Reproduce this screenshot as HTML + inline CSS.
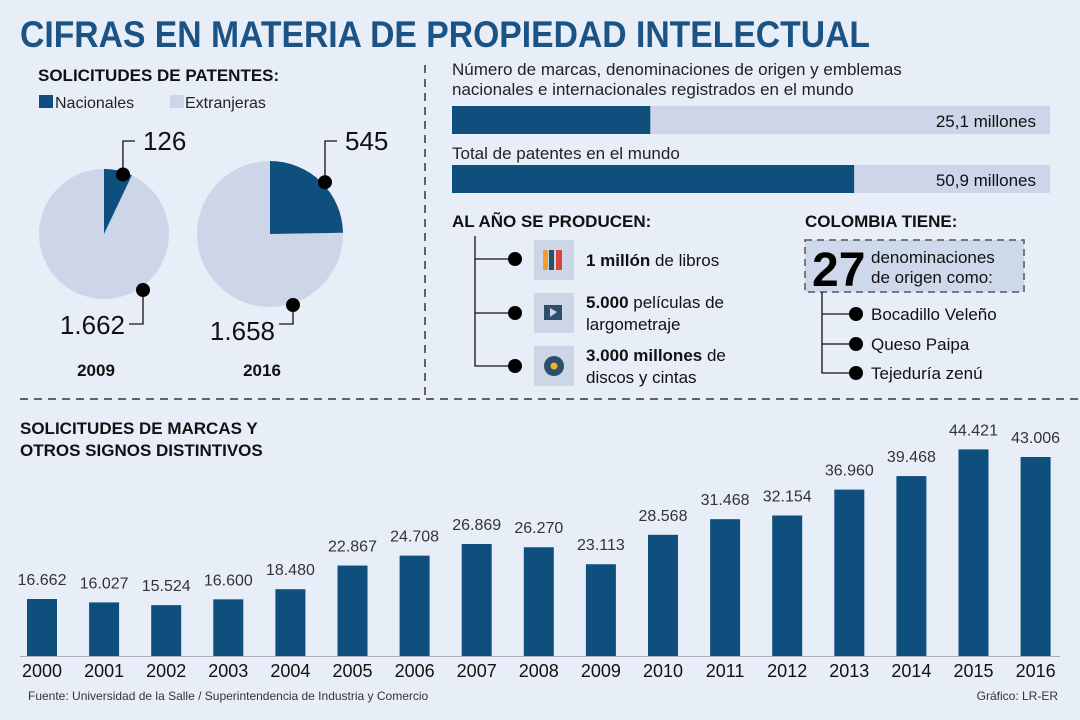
<!DOCTYPE html>
<html><head><meta charset="utf-8"><style>
body{margin:0;background:#e8eef8;}
svg{display:block;font-family:"Liberation Sans",sans-serif;}
</style></head><body>
<svg id="s" width="1080" height="720" viewBox="0 0 1080 720">
<rect width="1080" height="720" fill="#e8eef8"/>
<text x="20" y="47" font-size="37" font-weight="bold" fill="#1c5385" textLength="850" lengthAdjust="spacingAndGlyphs">CIFRAS EN MATERIA DE PROPIEDAD INTELECTUAL</text>
<text x="38" y="81" font-size="17" font-weight="bold" fill="#111">SOLICITUDES DE PATENTES:</text>
<rect x="39" y="95" width="14" height="13" fill="#0f4f7d"/>
<text x="55" y="108" font-size="16" fill="#222">Nacionales</text>
<rect x="170" y="95" width="14" height="13" fill="#ccd6e8"/>
<text x="185" y="108" font-size="16" fill="#222">Extranjeras</text>
<g id="pies"></g>
<line x1="425" y1="65" x2="425" y2="398" stroke="#333" stroke-width="1.5" stroke-dasharray="8,6"/>
<line x1="20" y1="399" x2="1080" y2="399" stroke="#333" stroke-width="1.5" stroke-dasharray="8,6"/>
<text x="452" y="75" font-size="17" fill="#222">Número de marcas, denominaciones de origen y emblemas</text>
<text x="452" y="95" font-size="17" fill="#222">nacionales e internacionales registrados en el mundo</text>
<text x="452" y="159" font-size="17" fill="#222">Total de patentes en el mundo</text>
<g id="hbars"></g>
<text x="452" y="227" font-size="17" font-weight="bold" fill="#111">AL AÑO SE PRODUCEN:</text>
<polyline points="475,236 475,366 515,366" fill="none" stroke="#111" stroke-width="1.3"/>
<line x1="475" y1="259" x2="515" y2="259" stroke="#111" stroke-width="1.3"/>
<line x1="475" y1="313" x2="515" y2="313" stroke="#111" stroke-width="1.3"/>
<circle cx="515" cy="259" r="7" fill="#000"/><circle cx="515" cy="313" r="7" fill="#000"/><circle cx="515" cy="366" r="7" fill="#000"/>
<rect x="534" y="240" width="40" height="40" fill="#cdd6e6"/>
<rect x="543" y="250" width="5" height="20" fill="#f0a030"/><rect x="549" y="250" width="5" height="20" fill="#2d4f6c"/><rect x="556" y="250" width="6" height="20" fill="#d9453a"/>
<rect x="534" y="293" width="40" height="40" fill="#cdd6e6"/>
<rect x="544" y="305" width="18" height="15" fill="#2d4f6c"/><polygon points="550,308 550,317 557,312" fill="#cdd6e6"/>
<rect x="534" y="346" width="40" height="40" fill="#cdd6e6"/>
<circle cx="554" cy="366" r="10" fill="#2d4f6c"/><circle cx="554" cy="366" r="3.5" fill="#f0b030"/>
<text x="586" y="266" font-size="17" fill="#111"><tspan font-weight="bold">1 millón</tspan> de libros</text>
<text x="586" y="308" font-size="17" fill="#111"><tspan font-weight="bold">5.000</tspan> películas de</text>
<text x="586" y="330" font-size="17" fill="#111">largometraje</text>
<text x="586" y="361" font-size="17" fill="#111"><tspan font-weight="bold">3.000 millones</tspan> de</text>
<text x="586" y="383" font-size="17" fill="#111">discos y cintas</text>
<text x="805" y="227" font-size="17" font-weight="bold" fill="#111">COLOMBIA TIENE:</text>
<rect x="805" y="240" width="219" height="52" fill="#cdd9ea" stroke="#555" stroke-width="1.5" stroke-dasharray="7,5"/>
<text x="812" y="286" font-size="48" font-weight="bold" fill="#000">27</text>
<text x="871" y="263" font-size="17" fill="#111">denominaciones</text>
<text x="871" y="283" font-size="17" fill="#111">de origen como:</text>
<polyline points="822,292 822,373 856,373" fill="none" stroke="#111" stroke-width="1.3"/>
<line x1="822" y1="314" x2="856" y2="314" stroke="#111" stroke-width="1.3"/>
<line x1="822" y1="344" x2="856" y2="344" stroke="#111" stroke-width="1.3"/>
<circle cx="856" cy="314" r="7" fill="#000"/><circle cx="856" cy="344" r="7" fill="#000"/><circle cx="856" cy="373" r="7" fill="#000"/>
<text x="871" y="320" font-size="17" fill="#111">Bocadillo Veleño</text>
<text x="871" y="350" font-size="17" fill="#111">Queso Paipa</text>
<text x="871" y="379" font-size="17" fill="#111">Tejeduría zenú</text>
<text x="20" y="434" font-size="17" font-weight="bold" fill="#111">SOLICITUDES DE MARCAS Y</text>
<text x="20" y="456" font-size="17" font-weight="bold" fill="#111">OTROS SIGNOS DISTINTIVOS</text>
<line x1="20" y1="656.5" x2="1060" y2="656.5" stroke="#aab" stroke-width="1"/>
<g id="bars"></g>
<text x="28" y="700" font-size="12" fill="#333">Fuente: Universidad de la Salle / Superintendencia de Industria y Comercio</text>
<text x="1058" y="700" font-size="12" fill="#333" text-anchor="end">Gráfico: LR-ER</text>
</svg>
<script>
const years=["2000","2001","2002","2003","2004","2005","2006","2007","2008","2009","2010","2011","2012","2013","2014","2015","2016"];
const marcas=[16662,16027,15524,16600,18480,22867,24708,26869,26270,23113,28568,31468,32154,36960,39468,44421,43006];
const marcasLabels=["16.662","16.027","15.524","16.600","18.480","22.867","24.708","26.869","26.270","23.113","28.568","31.468","32.154","36.960","39.468","44.421","43.006"];
const pieYears=["2009","2016"];
const pieNac=[126,545];
const pieExt=[1662,1658];
const pieNacLabels=["126","545"];
const pieExtLabels=["1.662","1.658"];
const hbarValues=[25.1,50.9];
const hbarLabels=["25,1 millones","50,9 millones"];
const NS="http://www.w3.org/2000/svg";
function mk(tag,attrs,parent,txt){const e=document.createElementNS(NS,tag);for(const k in attrs)e.setAttribute(k,attrs[k]);if(txt!=null)e.textContent=txt;parent.appendChild(e);return e;}
// bar chart
const bg=document.getElementById('bars');
const base=656, v0=6087, k=0.00539;
const xPos=i=>27+i*62.1;
const yScale=v=>base-(v-v0)*k;
years.forEach((y,i)=>{
  const x=xPos(i), t=yScale(marcas[i]);
  const r=mk('rect',{x:x,y:t,width:30,height:base-t,fill:'#0f4f7d'},bg);
  
  
  const l=mk('text',{x:x+15,y:t-14,'font-size':16,fill:'#333','text-anchor':'middle'},bg,marcasLabels[i]);
  
  
  const yl=mk('text',{x:x+15,y:677,'font-size':18,fill:'#111','text-anchor':'middle'},bg,y);
  
  
});
// horizontal bars
const hg=document.getElementById('hbars');
const hy=[106,165];
hbarValues.forEach((v,i)=>{
  const tr=mk('rect',{x:452,y:hy[i],width:598,height:28,fill:'#ccd6e8'},hg);
  
  
  const b=mk('rect',{x:452,y:hy[i],width:v*7.9,height:28,fill:'#0f4f7d'},hg);
  
  
  const t=mk('text',{x:1036,y:hy[i]+21,'font-size':17,fill:'#111','text-anchor':'end'},hg,hbarLabels[i]);
  
  
});
// pies
const pg=document.getElementById('pies');
const cx=[104,270], rr=[65,73];
pieYears.forEach((y,i)=>{
  const c=cx[i], cy=234, r=rr[i];
  const frac=pieNac[i]/(pieNac[i]+pieExt[i]);
  const full=mk('circle',{cx:c,cy:cy,r:r,fill:'#ccd6e8'},pg);
  
  
  const a=frac*2*Math.PI;
  const ex=c+r*Math.sin(a), ey=cy-r*Math.cos(a);
  const w=mk('path',{d:`M${c},${cy} L${c},${cy-r} A${r},${r} 0 ${frac>0.5?1:0} 1 ${ex},${ey} Z`,fill:'#0f4f7d'},pg);
  
  
  // callout top
  const ha=a/2, px=c+(r-6)*Math.sin(ha)+ (i==0?6:8), py=cy-(r-6)*Math.cos(ha)+ (i==0?-2:-4);
  mk('polyline',{points:`${px},${py} ${px},${141} ${px+12},${141}`,fill:'none',stroke:'#111','stroke-width':1.3},pg);
  mk('circle',{cx:px,cy:py,r:7,fill:'#000'},pg);
  const tl=mk('text',{x:px+20,y:150,'font-size':26,fill:'#111'},pg,pieNacLabels[i]);
  
  
  // bottom callout
  const bx=c+r*0.62, by=cy+r*0.79;
  const bxx=i==0?143:293, byy=i==0?290:305;
  mk('polyline',{points:`${bxx},${byy} ${bxx},${324} ${bxx-14},${324}`,fill:'none',stroke:'#111','stroke-width':1.3},pg);
  mk('circle',{cx:bxx,cy:byy,r:7,fill:'#000'},pg);
  const bl=mk('text',{x:bxx-18,y:i==0?334:340,'font-size':26,fill:'#111','text-anchor':'end'},pg,pieExtLabels[i]);
  
  
  const yl=mk('text',{x:c-8,y:376,'font-size':17,'font-weight':'bold',fill:'#111','text-anchor':'middle'},pg,y);
  
  
});
</script>
</body></html>
